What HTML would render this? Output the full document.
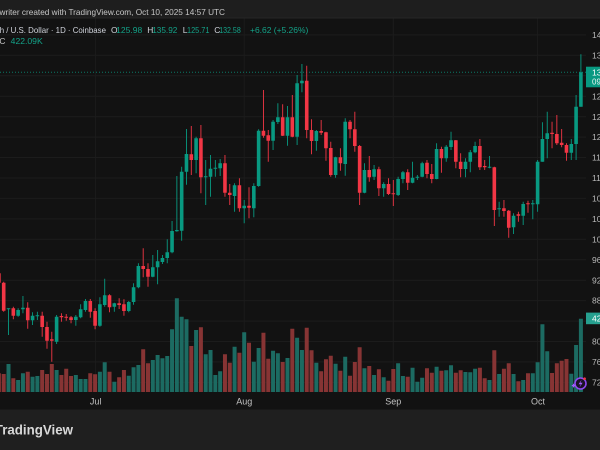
<!DOCTYPE html>
<html><head><meta charset="utf-8"><style>
html,body{margin:0;padding:0;background:#121212;width:600px;height:450px;overflow:hidden}
svg{display:block}
text{font-family:"Liberation Sans",Arial,sans-serif}
</style></head><body>
<svg width="600" height="450" viewBox="0 0 600 450" xmlns="http://www.w3.org/2000/svg">
<rect x="0" y="0" width="600" height="450" fill="#121212"/>
<!-- header -->
<rect x="0" y="0" width="600" height="17.5" fill="#1e1e1e"/>
<rect x="0" y="17.5" width="600" height="1" fill="#262626"/>
<!-- grid -->
<g stroke="#1c1c1c" stroke-width="1">
<path d="M0 34.9H586M0 55.3H586M0 75.8H586M0 96.2H586M0 116.7H586M0 137.1H586M0 157.5H586M0 178H586M0 198.4H586M0 218.9H586M0 239.3H586M0 259.7H586M0 280.2H586M0 300.6H586M0 321.1H586M0 341.5H586M0 361.9H586M0 382.4H586"/>
<path d="M95.4 18.5V392M244.2 18.5V392M393.3 18.5V392M537.6 18.5V392"/>
</g>
<!-- volume -->
<path fill="none" stroke="#1c6b62" stroke-width="4" d="M8.51 364V392M18.13 380V392M22.94 373.3V392M32.56 376.7V392M37.37 376V392M56.61 370V392M75.85 375V392M80.66 379V392M85.47 379V392M99.9 371.7V392M104.71 362.3V392M114.33 381.7V392M128.76 375.7V392M133.57 367.3V392M138.38 365V392M152.81 360V392M157.62 355V392M162.43 358.3V392M167.24 356V392M172.05 329.3V392M176.86 298.3V392M181.67 316.7V392M186.48 319.3V392M196.1 330V392M205.72 354.3V392M210.53 350V392M215.34 375V392M220.15 371.3V392M234.58 346.7V392M244.2 332.3V392M253.82 361.7V392M258.63 348V392M273.06 350.7V392M277.87 353.3V392M287.49 358V392M297.11 337.7V392M301.92 350V392M316.35 362.7V392M335.59 363.7V392M345.21 356.7V392M364.45 368.3V392M374.07 375V392M383.69 377.3V392M398.12 363.3V392M402.93 376V392M412.55 367.7V392M417.36 381.7V392M422.17 377.7V392M436.6 366.7V392M446.22 370.3V392M451.03 365.3V392M465.46 372V392M470.27 372.3V392M475.08 368.7V392M489.51 380V392M499.13 374V392M513.56 374V392M523.18 380V392M532.8 373.3V392M537.61 362.3V392M542.42 324.3V392M547.23 351.3V392M571.28 373.7V392M576.09 345V392M580.9 318.7V392"/>
<path fill="none" stroke="#873434" stroke-width="4" d="M-1.11 373.3V392M3.7 374V392M13.32 378.3V392M27.75 371.7V392M42.18 370V392M46.99 374V392M51.8 364V392M61.42 375V392M66.23 368.7V392M71.04 376V392M90.28 373.3V392M95.09 374.3V392M109.52 371.7V392M119.14 377.3V392M123.95 370V392M143.19 349.3V392M148 363.3V392M191.29 346V392M200.91 327.3V392M224.96 354.3V392M229.77 362.7V392M239.39 352.7V392M249.01 342.7V392M263.44 332.7V392M268.25 358.7V392M282.68 362V392M292.3 328.7V392M306.73 327.7V392M311.54 350.3V392M321.16 371.3V392M325.97 359.3V392M330.78 355.7V392M340.4 370.7V392M350.02 375.7V392M354.83 362V392M359.64 347.3V392M369.26 366V392M378.88 369.3V392M388.5 380.7V392M393.31 369V392M407.74 376.7V392M426.98 368.3V392M431.79 372.7V392M441.41 370.7V392M455.84 372.7V392M460.65 370.3V392M479.89 367.7V392M484.7 378.3V392M494.32 350.3V392M503.94 368.7V392M508.75 363.3V392M518.37 381.3V392M527.99 373.3V392M552.04 373V392M556.85 363.3V392M561.66 360.7V392M566.47 359V392"/>
<!-- current price line -->
<path d="M0 72.3H586" stroke="#089981" stroke-width="1" stroke-dasharray="1 2" opacity="0.75"/>
<!-- green candles -->
<path fill="none" stroke="#089981" stroke-width="0.9" d="M8.51 308.3V335M18.13 308.3V316.7M22.94 296V313.3M32.56 312.3V325M37.37 311.7V320M56.61 315V344M75.85 315V325.7M80.66 304.3V318.3M85.47 299V311.7M99.9 297.3V326.7M104.71 278.7V306.7M114.33 302.7V311.7M128.76 301V312.3M133.57 283.3V304.7M138.38 263.3V288.3M152.81 255V277.3M157.62 250V284.3M162.43 255V264M167.24 239.3V263.3M172.05 221V253.3M176.86 176V231.7M181.67 166.7V240.7M186.48 129V184.7M196.1 136.7V173.3M205.72 160V205M210.53 155V196.7M215.34 160V176.7M220.15 159V176M234.58 183.3V211.7M244.2 200V223.3M253.82 183.3V217.3M258.63 129.3V186.7M273.06 120V150M277.87 103.3V124M287.49 106V145.7M297.11 75V145M301.92 64V92.3M316.35 130V150.7M335.59 156.7V177.7M345.21 118.3V175.7M364.45 163.3V193.3M374.07 165V180M383.69 182.3V196.7M398.12 176.7V196M402.93 171V183.3M412.55 161.7V183.3M417.36 175V180M422.17 161.7V177.3M436.6 143.3V179.3M446.22 145V161.7M451.03 131.7V150M465.46 158.3V177.3M470.27 150V172.3M475.08 141.7V153.3M489.51 156V168.3M499.13 201.7V216.7M513.56 213.3V234M523.18 201.7V225M532.8 200V219.3M537.61 160V211.7M542.42 122.3V161.7M547.23 111.7V158.3M571.28 139V160M576.09 95V160M580.9 54.3V106.7"/>
<path fill="none" stroke="#089981" stroke-width="3.6" d="M8.51 308.3V309.3M18.13 310V315.7M22.94 307.7V309.3M32.56 315.7V320.3M37.37 315.3V316.3M56.61 316.7V341.7M75.85 316.7V320M80.66 309.3V317.3M85.47 301V310M99.9 304.3V325.7M104.71 295.3V305M114.33 303.3V306.7M128.76 302V311M133.57 287.3V302M138.38 266V287.3M152.81 267.3V276.7M157.62 261.3V267.3M162.43 258V262M167.24 252.3V258M172.05 231V252.3M176.86 230V231.3M181.67 171.7V230.7M186.48 154V171.7M196.1 138.3V160M205.72 176.3V177.3M210.53 168.7V176.7M215.34 167.7V168.7M220.15 163.3V168.3M234.58 185.3V196M244.2 205.7V208.3M253.82 186V208.3M258.63 130.7V186M273.06 121.7V140.7M277.87 117.3V122M287.49 117.3V135.7M297.11 83.3V136.7M301.92 80.7V83.3M316.35 131V141M335.59 157.3V175M345.21 121.7V164M364.45 170V192.7M374.07 169.3V176.7M383.69 184V188.3M398.12 179V195M402.93 172.3V179M412.55 177.7V182.7M417.36 176.7V177.7M422.17 163.3V176.7M436.6 149V179M446.22 146.7V158.3M451.03 140.3V147M465.46 161.7V169M470.27 152.3V161.7M475.08 146V152.3M489.51 166.7V167.7M499.13 208.3V209.3M513.56 215.7V227.3M523.18 204V215.7M532.8 203.3V204.3M537.61 161.7V204.3M542.42 139V161.7M547.23 133.3V139M571.28 144V152.7M576.09 106.7V144M580.9 72.3V106.7"/>
<!-- red candles -->
<path fill="none" stroke="#f23645" stroke-width="0.9" d="M-1.11 268.3V284M3.7 281.7V311.7M13.32 306.7V319.3M27.75 302.3V328.7M42.18 311.7V336.7M46.99 321.7V348.7M51.8 331.7V361.7M61.42 313.3V321.7M66.23 314V320.7M71.04 316V323.3M90.28 299V317.7M95.09 308.3V329.3M109.52 294.3V312.3M119.14 298.3V309M123.95 299.3V315.7M143.19 248.3V277.3M148 263.3V286.7M191.29 126V175M200.91 125V193.3M224.96 155V196.7M229.77 184V205M239.39 178.3V211.7M249.01 187.3V218.3M263.44 90V137.7M268.25 130V161.7M282.68 104.3V136M292.3 95V137.3M306.73 65.7V138.3M311.54 119.3V154.3M321.16 120V135M325.97 131.7V160.7M330.78 141.7V176.7M340.4 148.3V170.7M350.02 120V138.3M354.83 111.7V151.7M359.64 145V205M369.26 156V181.7M378.88 166.7V196M388.5 178.3V195M393.31 180V206M407.74 169.3V190M426.98 160V178.3M431.79 164V183.3M441.41 146.7V172.7M455.84 140V168.3M460.65 153.3V177.3M479.89 139V170M484.7 160V170M494.32 166.7V226M503.94 200V216.7M508.75 210V237.7M518.37 211.7V221.7M527.99 200.7V212.7M552.04 121.7V148.3M556.85 115V145M561.66 129V147.3M566.47 143.3V160.7"/>
<path fill="none" stroke="#f23645" stroke-width="3.6" d="M-1.11 273.3V282.7M3.7 282.7V310.7M13.32 308.3V315.7M27.75 307.7V320.3M42.18 315.7V327M46.99 327V340.7M51.8 339.3V340.7M61.42 316V317.3M66.23 316.7V317.7M71.04 317.3V320M90.28 301V311.7M95.09 311V325.7M109.52 295.3V307.3M119.14 303.3V305M123.95 304.3V311M143.19 266V269M148 269V276.7M191.29 154.3V160M200.91 138.3V177.3M224.96 163.3V192.7M229.77 192.7V195M239.39 185.3V208.3M249.01 205.7V207.7M263.44 130.7V135.7M268.25 135.3V140.7M282.68 117.3V135.7M292.3 117.3V136.7M306.73 80.7V130M311.54 130V141M321.16 131V132.7M325.97 132.3V148.3M330.78 148V175M340.4 157.3V163.3M350.02 121.7V129.3M354.83 129.3V146M359.64 146V192.7M369.26 170V177.3M378.88 169.3V188.3M388.5 184V194M393.31 193.3V194.3M407.74 172.3V182.7M426.98 162.7V174M431.79 174V179M441.41 149V158.3M455.84 140.3V161.7M460.65 161.7V169M479.89 146V167.3M484.7 166V167.3M494.32 167.3V210M503.94 208.3V211M508.75 210.7V227.7M518.37 214.3V215.7M527.99 203.3V204.3M552.04 132.7V134M556.85 134V143.3M561.66 142.7V145M566.47 145V152.7"/>
<!-- purple icon -->
<g>
<circle cx="580.5" cy="383.5" r="5.5" fill="#1a1226" stroke="#8f47f0" stroke-width="1.6"/>
<path d="M581.6 379.6L578.6 384.2H580.8L579.4 387.6L582.6 382.8H580.4Z" fill="#a25cff"/>
<path d="M571.8 385.6H575.4M573.6 383.8V387.4" stroke="#a25cff" stroke-width="1.3"/>
<circle cx="584.6" cy="378.7" r="1.3" fill="#f23645"/>
</g>
<!-- price axis labels -->
<g font-size="8.5" fill="#b9b9b9">
<text x="592" y="38">140.00</text>
<text x="592" y="58.4">136.00</text>
<text x="592" y="99.3">128.00</text>
<text x="592" y="119.8">124.00</text>
<text x="592" y="140.2">120.00</text>
<text x="592" y="160.6">116.00</text>
<text x="592" y="181.1">112.00</text>
<text x="592" y="201.5">108.00</text>
<text x="592" y="222">104.00</text>
<text x="592" y="242.4">100.00</text>
<text x="592" y="262.8">96.00</text>
<text x="592" y="283.3">92.00</text>
<text x="592" y="303.7">88.00</text>
<text x="592" y="344.6">80.00</text>
<text x="592" y="365">76.00</text>
<text x="592" y="385.5">72.00</text>
</g>
<rect x="586" y="66.7" width="16" height="20.6" fill="#089981"/>
<text x="592" y="75.3" font-size="8.5" fill="#ffffff">132.58</text>
<text x="592" y="84.3" font-size="8" fill="#e8f5f2">09:02:14</text>
<rect x="586" y="312.6" width="16" height="11.6" fill="#26a08f"/>
<text x="592" y="321.4" font-size="8.5" fill="#ffffff">422.09K</text>
<!-- time axis -->
<g font-size="9" fill="#c2c2c2" text-anchor="middle">
<text x="95.6" y="404.6">Jul</text>
<text x="244.2" y="404.6">Aug</text>
<text x="393.3" y="404.6">Sep</text>
<text x="538" y="404.6">Oct</text>
</g>
<!-- bottom band -->
<rect x="0" y="409.5" width="600" height="40.5" fill="#1f1f1f"/>
<text x="-5.2" y="434.5" font-size="13.5" font-weight="bold" fill="#d9d9d9" textLength="78.2" lengthAdjust="spacingAndGlyphs">TradingView</text>
<!-- header texts -->
<text x="-0.5" y="14.8" font-size="8.4" fill="#c6c6c6" textLength="225.5" lengthAdjust="spacingAndGlyphs">writer created with TradingView.com, Oct 10, 2025 14:57 UTC</text>
<g font-size="8.4">
<text x="-0.3" y="33" fill="#d1d4dc" textLength="106.3" lengthAdjust="spacingAndGlyphs">h / U.S. Dollar · 1D · Coinbase</text>
<text x="111" y="33" fill="#d1d4dc">O</text>
<text x="116.2" y="33" fill="#14a389" textLength="26" lengthAdjust="spacingAndGlyphs">125.98</text>
<text x="147.3" y="33" fill="#d1d4dc">H</text>
<text x="152.2" y="33" fill="#14a389" textLength="25.2" lengthAdjust="spacingAndGlyphs">135.92</text>
<text x="182.8" y="33" fill="#d1d4dc">L</text>
<text x="187" y="33" fill="#14a389" textLength="22.4" lengthAdjust="spacingAndGlyphs">125.71</text>
<text x="214.3" y="33" fill="#d1d4dc">C</text>
<text x="219.2" y="33" fill="#14a389" textLength="21.6" lengthAdjust="spacingAndGlyphs">132.58</text>
<text x="250" y="33" fill="#14a389" textLength="58.3" lengthAdjust="spacingAndGlyphs">+6.62 (+5.26%)</text>
<text x="-0.6" y="44" fill="#c6c6c6">C</text>
<text x="10.7" y="44" fill="#14a389" textLength="32" lengthAdjust="spacingAndGlyphs">422.09K</text>
</g>
</svg>
</body></html>
